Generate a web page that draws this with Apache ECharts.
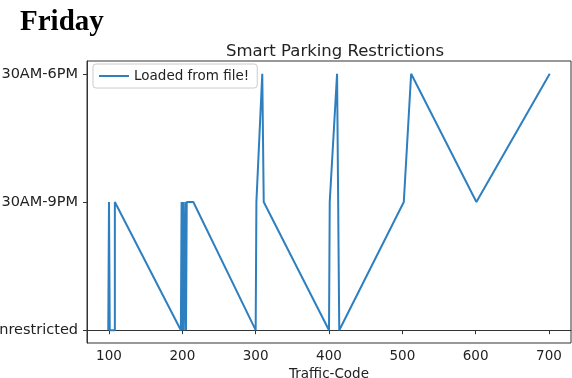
<!DOCTYPE html>
<html>
<head>
<meta charset="utf-8">
<script src="https://cdn.jsdelivr.net/npm/echarts@6/dist/echarts.min.js"></script>
<style>
html,body{margin:0;padding:0;background:#fff;}
#chart{width:572px;height:378px;}
</style>
</head>
<body>
<div id="chart"></div>
<script>
// Data
const restrictionLabels = ['Unrestricted', '8:30AM-9PM', '8:30AM-6PM'];
const trafficCodes = [99, 100, 101, 108, 108, 110, 198, 199, 200, 201, 202, 204, 205, 206, 215, 300, 301, 309, 311, 400, 401, 411, 413, 414, 416, 502, 504, 512, 601, 701];
const restrictionIdx = [0, 1, 0, 0, 1, 1, 0, 1, 0, 1, 0, 1, 0, 1, 1, 0, 1, 2, 1, 0, 1, 2, 2, 0, 0, 1, 1, 2, 1, 2];
const xTicks = [100, 200, 300, 400, 500, 600, 700];
const yTicks = [0, 1, 2];
const seriesName = 'Loaded from file!';

const points = trafficCodes.map((c, i) => [c, restrictionIdx[i]]);

const chart = echarts.init(document.getElementById('chart'), null, {renderer: 'canvas'});
const textColor = '#222';
const font = 'DejaVu Sans';
chart.setOption({
  animation: false,
  backgroundColor: '#fff',
  title: {
    text: 'Smart Parking Restrictions',
    left: 330, textAlign: 'center',
    top: 38,
    textStyle: {fontFamily: font, fontSize: 16.5, fontWeight: 'normal', color: textColor}
  },
  graphic: [{
    type: 'text', left: 20, top: 8,
    style: {text: 'Friday', font: 'bold 29px "Liberation Serif"', fill: '#000'}
  }],
  legend: {
    left: 93, top: 64,
    data: [{name: seriesName, icon: 'rect'}],
    itemWidth: 30, itemHeight: 2,
    padding: [5, 8, 5, 6],
    borderColor: '#ccc', borderWidth: 1, borderRadius: 3,
    backgroundColor: 'rgba(255,255,255,0.8)',
    textStyle: {fontFamily: font, fontSize: 13.5, color: textColor}
  },
  grid: {
    left: 87, right: 1, top: 61, bottom: 35,
    outerBoundsMode: 'none',
    containLabel: false,
    show: true, borderColor: '#333', borderWidth: 1, backgroundColor: '#fff'
  },
  xAxis: {
    type: 'value', min: 70, max: 730,
    name: 'Traffic-Code', nameLocation: 'middle', nameGap: 21,
    nameTextStyle: {fontFamily: font, fontSize: 13.5, color: textColor},
    axisLine: {show: true, lineStyle: {color: '#333', width: 1}},
    axisTick: {show: true, length: 4, customValues: xTicks, lineStyle: {color: '#333'}},
    axisLabel: {customValues: xTicks, fontFamily: font, fontSize: 13.5, color: textColor, margin: 6},
    splitLine: {show: false}
  },
  yAxis: {
    type: 'value', min: -0.1, max: 2.1,
    axisLine: {show: true, lineStyle: {color: '#333', width: 1}},
    axisTick: {show: true, length: 4, customValues: yTicks, lineStyle: {color: '#333'}},
    axisLabel: {
      customValues: yTicks, fontFamily: font, fontSize: 14.5, color: textColor, margin: 9,
      formatter: v => restrictionLabels[Math.round(v)]
    },
    splitLine: {show: false}
  },
  series: [{
    name: seriesName,
    type: 'line',
    data: points,
    showSymbol: false,
    symbol: 'none',
    lineStyle: {color: '#2e7fbf', width: 2},
    itemStyle: {color: '#2e7fbf'}
  }]
});
</script>
</body>
</html>
